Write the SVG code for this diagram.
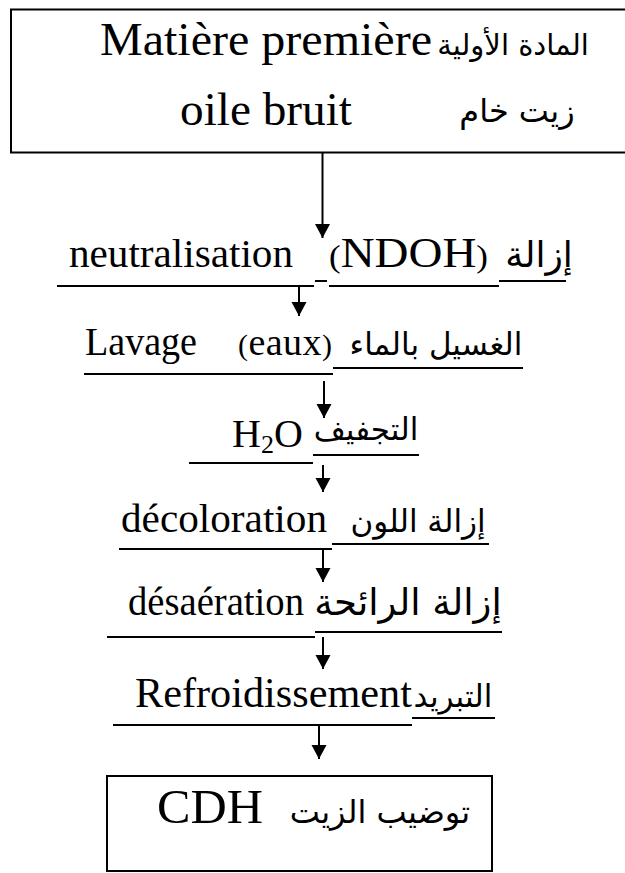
<svg xmlns="http://www.w3.org/2000/svg" width="625" height="873" viewBox="0 0 625 873">
<style>
.fr{font-family:"Liberation Serif",serif;fill:#000}
.ar{font-family:"DejaVu Sans",sans-serif;fill:#000;text-anchor:middle}
.box{fill:#fff;stroke:#000;stroke-width:2}
.ul{stroke:#000;stroke-width:2}
.arr{stroke:#000;stroke-width:2;fill:none;marker-end:url(#ah)}
</style>
<defs>
<marker id="ah" markerUnits="userSpaceOnUse" markerWidth="16" markerHeight="16" refX="14" refY="7.5" orient="auto">
<path d="M0,0 L14,7.5 L0,15 z" fill="#000"/>
</marker>
</defs>
<rect width="625" height="873" fill="#fff"/>
<g id="connectors">
<line class="arr" x1="322.5" y1="143" x2="322.5" y2="238"/>
<line class="arr" x1="299" y1="287" x2="299" y2="316"/>
<line class="arr" x1="324" y1="381" x2="324" y2="418"/>
<line class="arr" x1="323" y1="465" x2="323" y2="492"/>
<line class="arr" x1="323" y1="549" x2="323" y2="582"/>
<line class="arr" x1="323" y1="637" x2="323" y2="669"/>
<line class="arr" x1="319" y1="726" x2="319" y2="759"/>
</g>
<g id="n1">
<rect class="box" x="11" y="9.5" width="625" height="143"/>
<text class="fr" x="100" y="55" font-size="46" textLength="332" lengthAdjust="spacingAndGlyphs">Matière première</text>
<text class="ar" x="513" y="55" font-size="29">المادة الأولية</text>
<text class="fr" x="180" y="125" font-size="46" textLength="172" lengthAdjust="spacingAndGlyphs">oile bruit</text>
<text class="ar" x="517" y="122" font-size="32">زيت خام</text>
</g>
<g id="n2">
<text class="fr" x="69" y="267" font-size="41" textLength="224" lengthAdjust="spacingAndGlyphs">neutralisation</text>
<text class="fr" x="329" y="267" font-size="43" textLength="159" lengthAdjust="spacingAndGlyphs"><tspan font-size="32">(</tspan>NDOH<tspan font-size="32">)</tspan></text>
<text class="ar" x="539" y="267" font-size="36">إزالة</text>
<line class="ul" x1="57" y1="286" x2="314" y2="286"/>
<line class="ul" x1="315" y1="281" x2="327" y2="281"/>
<line class="ul" x1="329" y1="286" x2="499" y2="286"/>
<line class="ul" x1="499" y1="281" x2="566" y2="281"/>
</g>
<g id="n3">
<text class="fr" x="85" y="355" font-size="41" textLength="112" lengthAdjust="spacingAndGlyphs">Lavage</text>
<text class="fr" x="238" y="355" font-size="38" textLength="94"><tspan font-size="30">(</tspan>eaux<tspan font-size="30">)</tspan></text>
<text class="ar" x="436" y="355" font-size="31">الغسيل بالماء</text>
<line class="ul" x1="84" y1="374" x2="333" y2="374"/>
<line class="ul" x1="333" y1="368" x2="523" y2="368"/>
</g>
<g id="n4">
<text class="fr" x="232" y="447" font-size="40">H<tspan font-size="26" dy="6">2</tspan><tspan dy="-6">O</tspan></text>
<text class="ar" x="366" y="440" font-size="31">التجفيف</text>
<line class="ul" x1="189" y1="463" x2="313" y2="463"/>
<line class="ul" x1="313" y1="455" x2="419" y2="455"/>
</g>
<g id="n5">
<text class="fr" x="121" y="532" font-size="41" textLength="206" lengthAdjust="spacingAndGlyphs">décoloration</text>
<text class="ar" x="418" y="532" font-size="31">إزالة اللون</text>
<line class="ul" x1="119" y1="549" x2="332" y2="549"/>
<line class="ul" x1="332" y1="544" x2="489" y2="544"/>
</g>
<g id="n6">
<text class="fr" x="128" y="615" font-size="40" textLength="176" lengthAdjust="spacingAndGlyphs">désaération</text>
<text class="ar" x="408" y="615" font-size="37">إزالة الرائحة</text>
<line class="ul" x1="107" y1="637" x2="315" y2="637"/>
<line class="ul" x1="315" y1="632" x2="502" y2="632"/>
</g>
<g id="n7">
<text class="fr" x="135" y="707" font-size="42" textLength="277" lengthAdjust="spacingAndGlyphs">Refroidissement</text>
<text class="ar" x="453" y="707" font-size="31">التبريد</text>
<line class="ul" x1="113" y1="725" x2="412" y2="725"/>
<line class="ul" x1="412" y1="718" x2="495" y2="718"/>
</g>
<g id="n8">
<rect class="box" x="107" y="776" width="385" height="95"/>
<text class="fr" x="157" y="823" font-size="48" textLength="106" lengthAdjust="spacingAndGlyphs">CDH</text>
<text class="ar" x="380" y="823" font-size="32">توضيب الزيت</text>
</g>
</svg>
